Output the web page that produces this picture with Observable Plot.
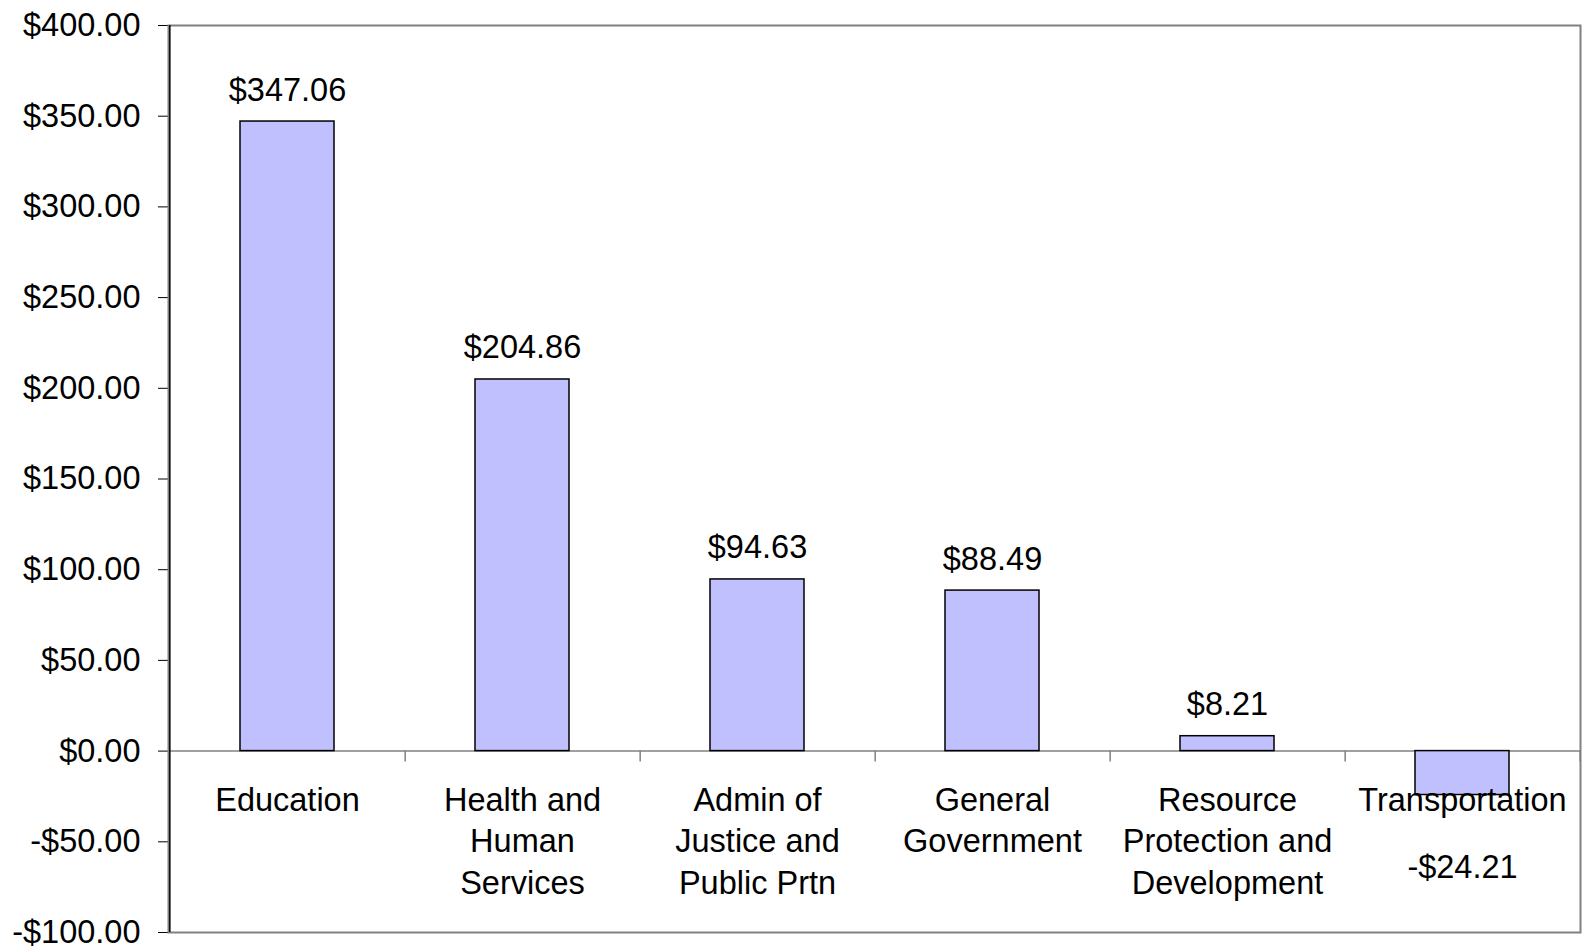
<!DOCTYPE html>
<html><head><meta charset="utf-8">
<script src="https://cdn.jsdelivr.net/npm/d3@7"></script>
<script src="https://cdn.jsdelivr.net/npm/@observablehq/plot@0.6"></script>
<style>body{margin:0;background:#fff} #chart svg{font-family:"Liberation Sans",Arial,sans-serif}</style>
</head><body><div id="chart"></div>
<script>
const categories = ["Education", "Health and\nHuman\nServices", "Admin of\nJustice and\nPublic Prtn", "General\nGovernment", "Resource\nProtection and\nDevelopment", "Transportation"];
const values = [347.06, 204.86, 94.63, 88.49, 8.21, -24.21];
const valueLabels = ["$347.06", "$204.86", "$94.63", "$88.49", "$8.21", "-$24.21"];
const yTicks = [-100, -50, 0, 50, 100, 150, 200, 250, 300, 350, 400];

const data = categories.map((c, i) => ({category: c, value: values[i], label: valueLabels[i]}));
const fmt = v => (v < 0 ? "-$" : "$") + Math.abs(v).toFixed(2);

const W = 1585, H = 946, ML = 168, MR = 5, MT = 25, MB = 14;
const step = (W - ML - MR) / categories.length;

const chart = Plot.plot({
  width: W, height: H,
  marginLeft: ML, marginRight: MR, marginTop: MT, marginBottom: MB,
  style: {fontFamily: '"Liberation Sans", Arial, sans-serif', fontSize: "32.5px", background: "#fff", color: "#000", overflow: "visible"},
  x: {domain: categories, paddingInner: 0.6, paddingOuter: 0.3, axis: null},
  y: {domain: [-100, 400], ticks: yTicks, tickFormat: fmt, tickSize: 10, tickPadding: 18, label: null},
  marks: [
    Plot.frame({stroke: "#808080", strokeWidth: 2}),
    Plot.ruleY([0], {stroke: "#808080", strokeWidth: 1.5}),
    Plot.ruleX(categories, {x: d => d, y1: 0, y2: -6, dx: step / 2, stroke: "#808080", strokeWidth: 1.5}),
    Plot.ruleX([categories[0]], {x: d => d, y1: -100, y2: 400, dx: -step / 2, stroke: "#000", strokeWidth: 1.5}),
    Plot.barY(data, {x: "category", y: "value", fill: "#C0C0FF", stroke: "#000", strokeWidth: 1.5}),
    Plot.text(data.filter(d => d.value >= 0), {x: "category", y: "value", text: "label", lineAnchor: "bottom", dy: -21, fill: "#000"}),
    Plot.text(data.filter(d => d.value < 0), {x: "category", y: "value", text: "label", lineAnchor: "top", dy: 60, fill: "#000"}),
    Plot.text(categories, {x: d => d, y: 0, text: d => d, lineAnchor: "top", dy: 30, lineHeight: 1.28, fill: "#000"})
  ]
});
document.getElementById("chart").appendChild(chart);
</script>
</body></html>
